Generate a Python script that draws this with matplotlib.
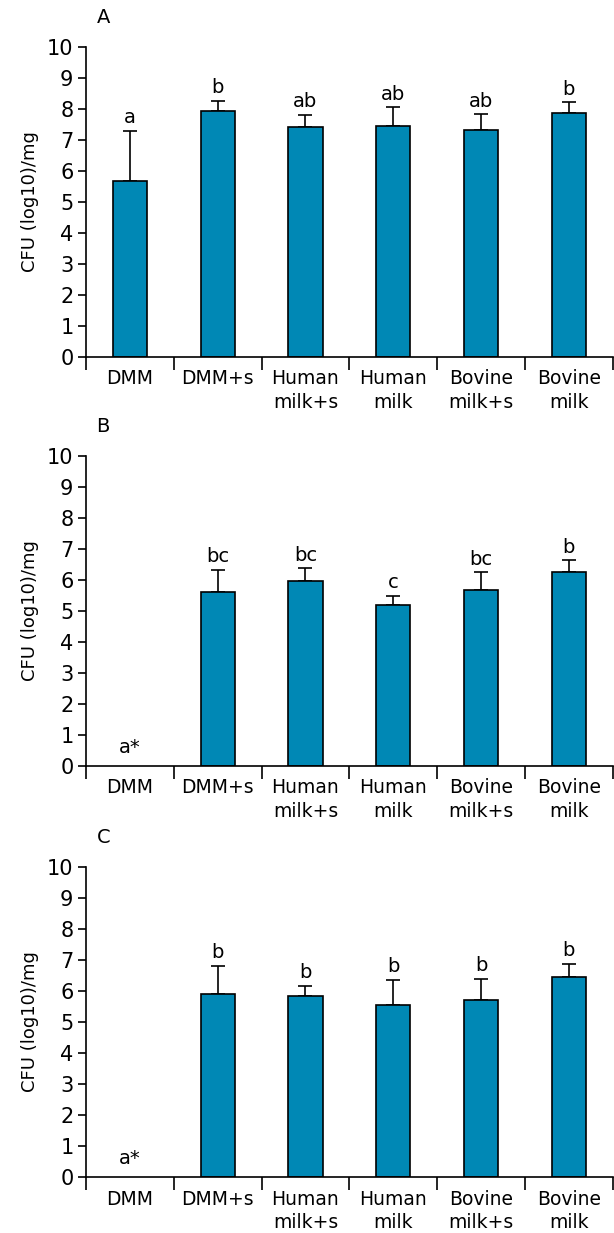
import matplotlib
matplotlib.use('Agg')
import matplotlib.pyplot as plt
import numpy as np

# data
categories = ['DMM', 'DMM+s', 'Human\nmilk+s', 'Human\nmilk', 'Bovine\nmilk+s', 'Bovine\nmilk']

means_a = [5.68, 7.93, 7.42, 7.45, 7.32, 7.88]
err_a = [1.62, 0.33, 0.38, 0.6, 0.5, 0.33]
letters_a = ['a', 'b', 'ab', 'ab', 'ab', 'b']

means_b = [0, 5.6, 5.97, 5.18, 5.66, 6.25]
err_b = [0, 0.72, 0.4, 0.3, 0.58, 0.38]
letters_b = ['a*', 'bc', 'bc', 'c', 'bc', 'b']

means_c = [0, 5.9, 5.85, 5.55, 5.72, 6.45]
err_c = [0, 0.9, 0.32, 0.8, 0.66, 0.43]
letters_c = ['a*', 'b', 'b', 'b', 'b', 'b']

panels = ['A', 'B', 'C']
bar_color = '#0088b5'

plt.rcParams['font.family'] = ['DejaVu Sans']


def draw_panel(ax, means, errs, letters, name):
    x = np.arange(len(categories))
    means = np.array(means)
    errs = np.array(errs)
    has_bar = means > 0
    ax.bar(x[has_bar], means[has_bar], width=0.39, color=bar_color,
           edgecolor='black', linewidth=1.2, zorder=2)
    ax.errorbar(x[has_bar], means[has_bar],
                yerr=[np.zeros(has_bar.sum()), errs[has_bar]],
                fmt='none', ecolor='black', elinewidth=1.2, capsize=5,
                capthick=1.2, zorder=1)
    for xi, m, e, lab in zip(x, means, errs, letters):
        if m > 0:
            ax.text(xi, m + e + 0.12, lab, ha='center', va='bottom', fontsize=14)
        else:
            ax.text(xi, 0.3, lab, ha='center', va='bottom', fontsize=14)
    ax.set_xlim(-0.5, 5.5)
    ax.set_ylim(0, 10)
    ax.set_yticks(range(0, 11))
    ax.set_xticks(x)
    ax.set_xticklabels(categories, fontsize=13.5, linespacing=1.3)
    ax.set_xticks(np.arange(-0.5, 6.0, 1.0), minor=True)
    ax.tick_params(axis='x', which='major', length=0, pad=9)
    ax.tick_params(axis='x', which='minor', length=9, width=1.2, direction='out')
    ax.tick_params(axis='y', length=6, width=1.2, labelsize=15, pad=3)
    for s in ['top', 'right']:
        ax.spines[s].set_visible(False)
    ax.spines['left'].set_linewidth(1.2)
    ax.spines['bottom'].set_linewidth(1.2)
    ax.set_ylabel('CFU (log10)/mg', fontsize=13, labelpad=6)
    ax.text(0.02, 1.094, name, transform=ax.transAxes, fontsize=14,
            ha='left', va='center')


fig = plt.figure(figsize=(6.14, 12.33), dpi=100)
bottoms = [0.7105, 0.3788, 0.0454]
height = 0.2515
datasets = [(means_a, err_a, letters_a), (means_b, err_b, letters_b), (means_c, err_c, letters_c)]
for b, (m, e, l), name in zip(bottoms, datasets, panels):
    ax = fig.add_axes([0.14, b, 0.858, height])
    draw_panel(ax, m, e, l, name)

fig.savefig('out.png', dpi=100)
